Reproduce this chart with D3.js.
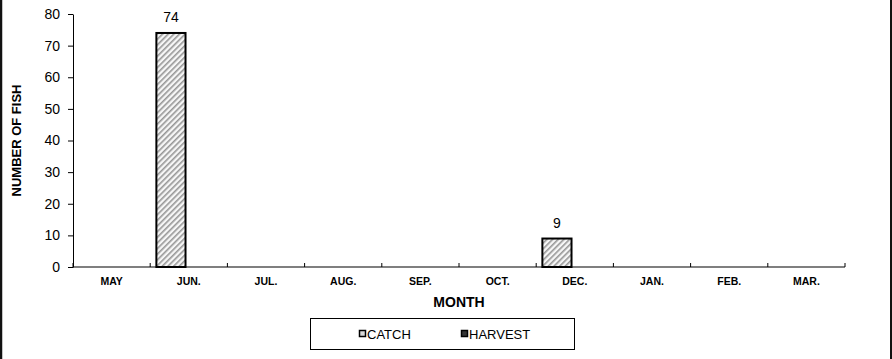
<!DOCTYPE html>
<html>
<head>
<meta charset="utf-8">
<script src="https://cdn.jsdelivr.net/npm/d3@7"></script>
<style>
  html, body { margin: 0; padding: 0; background: #fff; }
  svg { display: block; font-family: "Liberation Sans", Arial, sans-serif; }
</style>
</head>
<body>
<svg id="chart" width="892" height="359"></svg>
<script>
// Monthly catch and harvest counts
const months = ["MAY", "JUN.", "JUL.", "AUG.", "SEP.", "OCT.", "DEC.", "JAN.", "FEB.", "MAR."];
const series = ["CATCH", "HARVEST"];
const catchValues = [0, 74, 0, 0, 0, 0, 9, 0, 0, 0];
const harvestValues = [0, 0, 0, 0, 0, 0, 0, 0, 0, 0];
const yTicks = [0, 10, 20, 30, 40, 50, 60, 70, 80];

const W = 892, H = 359;
const plot = { left: 73, right: 845, top: 14, bottom: 267 };

const svg = d3.select("#chart");

// Diagonal hatch used for the CATCH bars
const defs = svg.append("defs");
const pat = defs.append("pattern")
  .attr("id", "hatch")
  .attr("patternUnits", "userSpaceOnUse")
  .attr("width", 4).attr("height", 4)
  .attr("patternTransform", "rotate(45)");
pat.append("rect").attr("width", 4).attr("height", 4).attr("fill", "#f6f6f6");
pat.append("rect").attr("x", 0).attr("y", 0).attr("width", 1.6).attr("height", 4).attr("fill", "#969696");

// Outer frame (left and right edges)
svg.append("line").attr("x1", 1).attr("x2", 1).attr("y1", 0).attr("y2", H)
  .attr("stroke", "#111").attr("stroke-width", 2.5);
svg.append("line").attr("x1", 891).attr("x2", 891).attr("y1", 0).attr("y2", H)
  .attr("stroke", "#111").attr("stroke-width", 2);

const x0 = d3.scaleBand().domain(months).range([plot.left, plot.right]).paddingInner(0).paddingOuter(0);
const bw = x0.bandwidth();
const x1 = d3.scaleBand().domain(series).range([bw * 0.08, bw * 0.835]).padding(0);
const y = d3.scaleLinear().domain([0, 80]).range([plot.bottom, plot.top]);

const rows = months.map((m, i) => ({ month: m, CATCH: catchValues[i], HARVEST: harvestValues[i] }));

// Y axis
const yAxis = svg.append("g")
  .attr("transform", `translate(${plot.left},0)`)
  .call(d3.axisLeft(y).tickValues(yTicks).tickSize(5).tickSizeOuter(0).tickPadding(8));
yAxis.select(".domain").attr("stroke", "#000").attr("stroke-width", 1);
yAxis.selectAll(".tick line").attr("stroke", "#000");
yAxis.selectAll(".tick text").attr("font-size", 14).attr("fill", "#000")
  .attr("font-family", "'Liberation Sans', Arial, sans-serif");

// Bars
const groups = svg.append("g").selectAll("g").data(rows).join("g")
  .attr("transform", d => `translate(${x0(d.month)},0)`);

groups.filter(d => d.CATCH > 0).append("rect")
  .attr("x", x1("CATCH"))
  .attr("width", x1.bandwidth())
  .attr("y", d => y(d.CATCH))
  .attr("height", d => y(0) - y(d.CATCH))
  .attr("fill", "url(#hatch)")
  .attr("stroke", "#000").attr("stroke-width", 2);

groups.filter(d => d.HARVEST > 0).append("rect")
  .attr("x", x1("HARVEST"))
  .attr("width", x1.bandwidth())
  .attr("y", d => y(d.HARVEST))
  .attr("height", d => y(0) - y(d.HARVEST))
  .attr("fill", "#333")
  .attr("stroke", "#000").attr("stroke-width", 2);

// Value labels
groups.filter(d => d.CATCH > 0).append("text")
  .attr("x", x1("CATCH") + x1.bandwidth() / 2)
  .attr("y", d => y(d.CATCH) - 11)
  .attr("text-anchor", "middle")
  .attr("font-size", 14)
  .text(d => d.CATCH);

// X axis: ticks point up into the plot between months
const xAxis = svg.append("g").attr("transform", `translate(0,${plot.bottom})`);
xAxis.append("line")
  .attr("x1", plot.left).attr("x2", plot.right)
  .attr("stroke", "#000").attr("stroke-width", 1.2);
const boundaries = months.map(m => x0(m)).concat([plot.right]);
xAxis.selectAll("line.tk").data(boundaries).join("line")
  .attr("class", "tk")
  .attr("x1", d => d).attr("x2", d => d)
  .attr("y1", 0).attr("y2", -4)
  .attr("stroke", "#000");
xAxis.selectAll("text").data(months).join("text")
  .attr("x", d => x0(d) + bw / 2)
  .attr("y", 18)
  .attr("text-anchor", "middle")
  .attr("font-size", 10.5)
  .attr("font-weight", "bold")
  .text(d => d);

// Axis titles
svg.append("text")
  .attr("transform", `translate(21,${(plot.top + plot.bottom) / 2}) rotate(-90)`)
  .attr("text-anchor", "middle")
  .attr("font-size", 13).attr("font-weight", "bold")
  .text("NUMBER OF FISH");

svg.append("text")
  .attr("x", (plot.left + plot.right) / 2)
  .attr("y", 307)
  .attr("text-anchor", "middle")
  .attr("font-size", 14).attr("font-weight", "bold")
  .text("MONTH");

// Legend
const legend = svg.append("g");
legend.append("rect")
  .attr("x", 310.5).attr("y", 318.5).attr("width", 264).attr("height", 31)
  .attr("fill", "#fff").attr("stroke", "#000").attr("stroke-width", 1);
const legendItems = [
  { name: series[0], x: 359, fill: "#d8d8d8" },
  { name: series[1], x: 461, fill: "#333" }
];
const li = legend.selectAll("g").data(legendItems).join("g")
  .attr("transform", d => `translate(${d.x},330)`);
li.append("rect").attr("x", 0.5).attr("y", 0.5).attr("width", 6).attr("height", 6)
  .attr("fill", d => d.fill).attr("stroke", "#000").attr("stroke-width", 1.5);
li.append("text").attr("x", 8).attr("y", 9).attr("font-size", 13).text(d => d.name);
</script>
</body>
</html>
